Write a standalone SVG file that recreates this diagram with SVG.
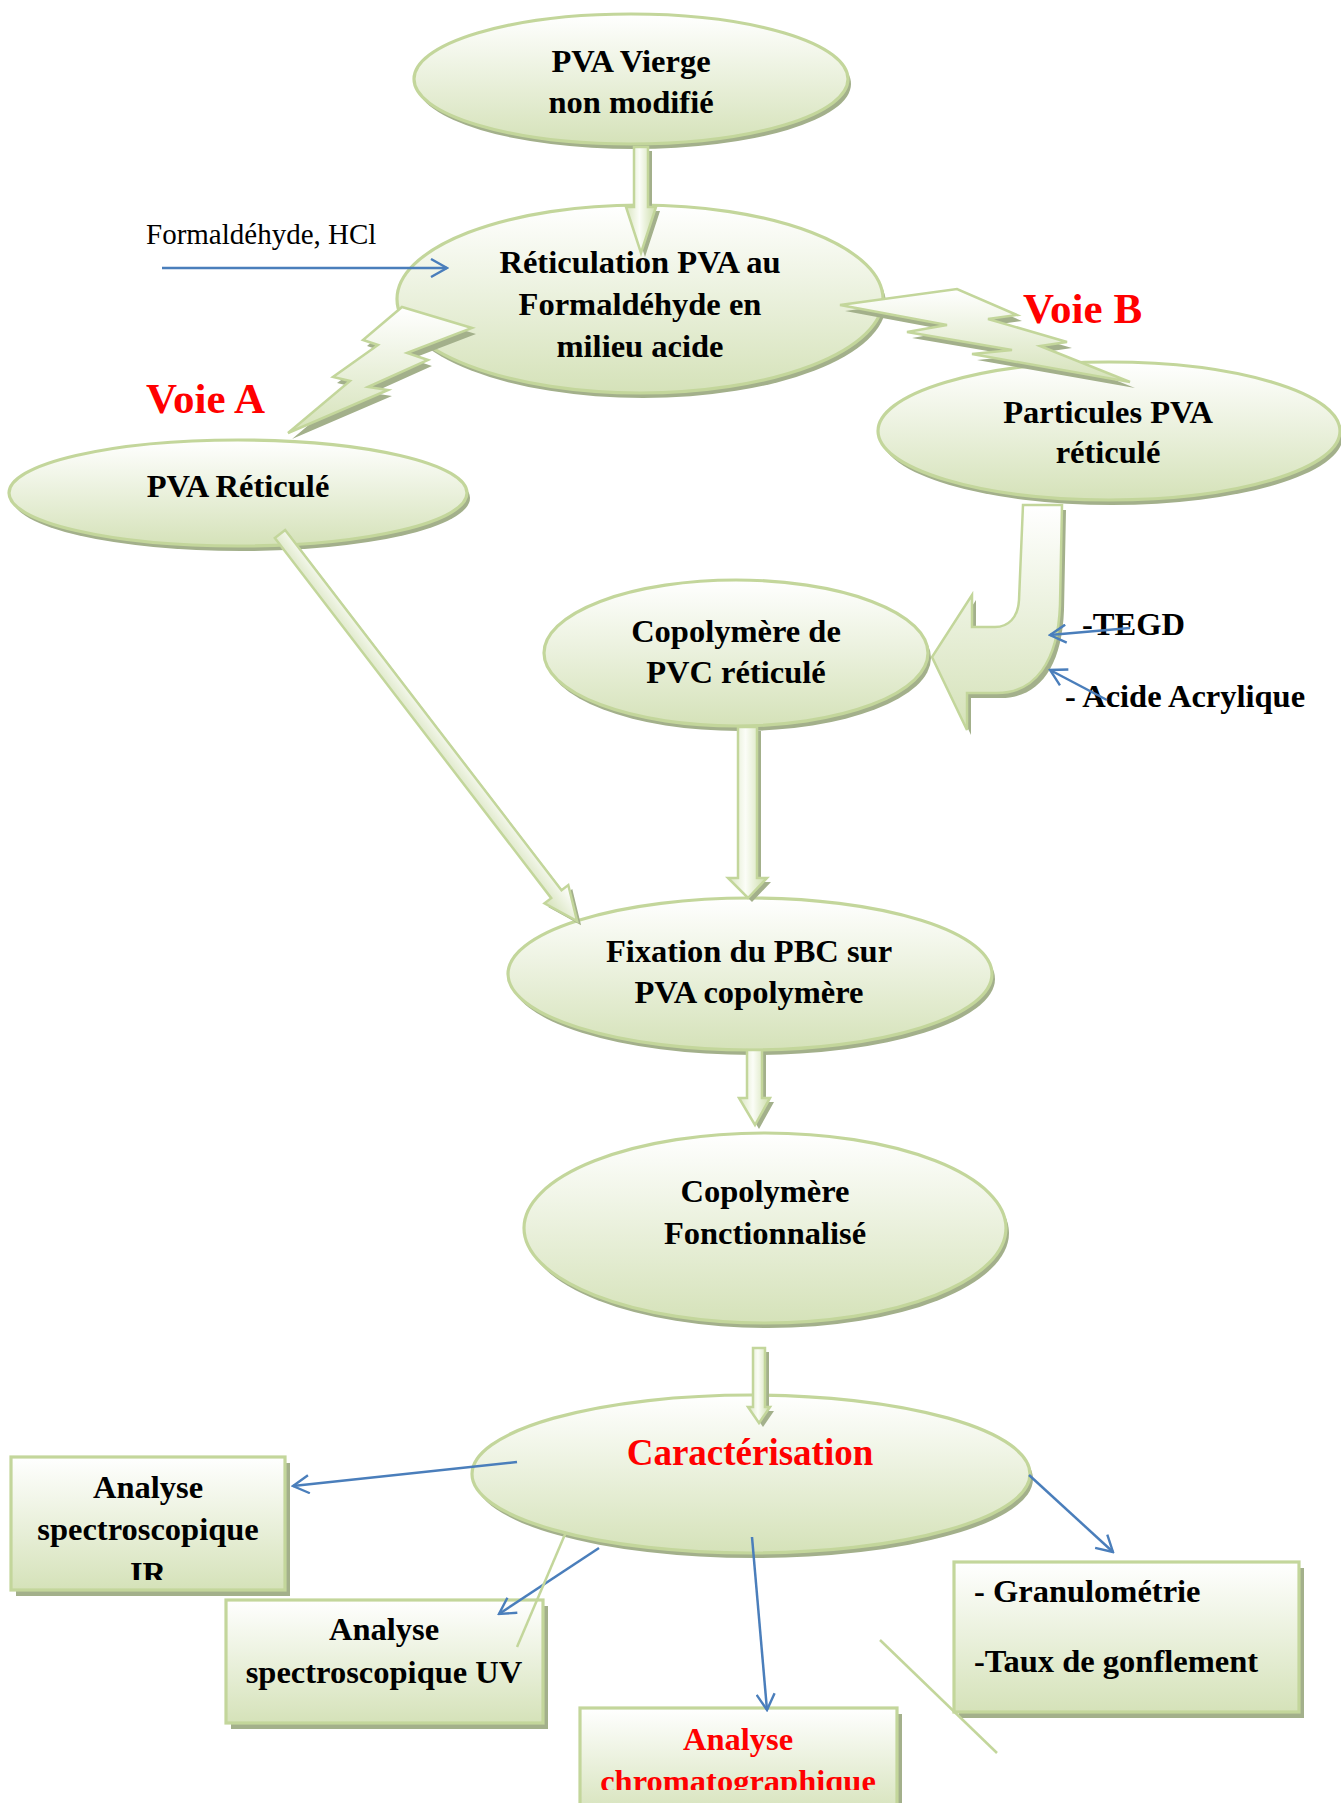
<svg xmlns="http://www.w3.org/2000/svg" width="1341" height="1803" viewBox="0 0 1341 1803">
<defs>
<linearGradient id="gn" x1="0" y1="0" x2="0" y2="1"><stop offset="0" stop-color="#ffffff"/><stop offset="1" stop-color="#d5e2b9"/></linearGradient>
<linearGradient id="gh" x1="0" y1="0" x2="1" y2="0"><stop offset="0" stop-color="#d9e5c0"/><stop offset="0.45" stop-color="#fbfdf7"/><stop offset="1" stop-color="#cbdca7"/></linearGradient>
<marker id="ah" viewBox="0 0 20 20" refX="18" refY="10" markerWidth="20" markerHeight="20" markerUnits="userSpaceOnUse" orient="auto"><path d="M2,1 L18,10 L2,19" fill="none" stroke="#4a7ebb" stroke-width="2.4"/></marker>
<clipPath id="cIR"><rect x="11" y="1457" width="274" height="123"/></clipPath>
<clipPath id="cCh"><rect x="580" y="1708" width="317" height="82"/></clipPath>
</defs>
<style>
.nd{fill:url(#gn);stroke:#c3d69b;stroke-width:3.2}
.sh{fill:#a3b08b}
.ar{fill:url(#gh);stroke:#c3d69b;stroke-width:2.5}
.ad{fill:url(#gn);stroke:#c3d69b;stroke-width:2.5}
.t{font-family:"Liberation Serif","Times New Roman",serif;font-weight:bold;font-size:32.5px;text-anchor:middle;fill:#000}
.l{text-anchor:start}
.red{fill:#ff0000}
.v{font-size:43px}
.bl{fill:none;stroke:#4a7ebb;stroke-width:2.5;marker-end:url(#ah)}
.gl{fill:none;stroke:#c3d69b;stroke-width:2.5}
</style>

<g id="n-vierge">
<ellipse class="sh" cx="634" cy="84" rx="217" ry="65"/>
<ellipse class="nd" cx="631" cy="79" rx="217" ry="65"/>
<text class="t" x="631" y="72">PVA Vierge</text>
<text class="t" x="631" y="113">non modifié</text>
</g>

<g id="n-reticulation">
<ellipse class="sh" cx="643" cy="304" rx="243" ry="94"/>
<ellipse class="nd" cx="640" cy="299" rx="243" ry="94"/>
<text class="t" x="640" y="273">Réticulation PVA au</text>
<text class="t" x="640" y="315">Formaldéhyde en</text>
<text class="t" x="640" y="357">milieu acide</text>
</g>

<g id="n-pva-reticule">
<ellipse class="sh" cx="241" cy="498" rx="229" ry="53"/>
<ellipse class="nd" cx="238" cy="493" rx="229" ry="53"/>
<text class="t" x="238" y="497">PVA Réticulé</text>
</g>

<g id="n-particules">
<ellipse class="sh" cx="1112" cy="436" rx="231" ry="69"/>
<ellipse class="nd" cx="1109" cy="431" rx="231" ry="69"/>
<text class="t" x="1108" y="423">Particules PVA</text>
<text class="t" x="1108" y="463">réticulé</text>
</g>

<g id="n-copolymere-pvc">
<ellipse class="sh" cx="739" cy="658" rx="192" ry="73"/>
<ellipse class="nd" cx="736" cy="653" rx="192" ry="73"/>
<text class="t" x="736" y="642">Copolymère de</text>
<text class="t" x="736" y="683">PVC réticulé</text>
</g>

<g id="n-fixation">
<ellipse class="sh" cx="753" cy="979" rx="242" ry="76"/>
<ellipse class="nd" cx="750" cy="974" rx="242" ry="76"/>
<text class="t" x="749" y="962">Fixation du PBC sur</text>
<text class="t" x="749" y="1003">PVA copolymère</text>
</g>

<g id="n-fonctionnalise">
<ellipse class="sh" cx="768" cy="1233" rx="241" ry="95"/>
<ellipse class="nd" cx="765" cy="1228" rx="241" ry="95"/>
<text class="t" x="765" y="1202">Copolymère</text>
<text class="t" x="765" y="1244">Fonctionnalisé</text>
</g>

<g id="n-caracterisation">
<ellipse class="sh" cx="754" cy="1479" rx="279" ry="79"/>
<ellipse class="nd" cx="751" cy="1474" rx="279" ry="79"/>
<text class="t red" x="750" y="1465" style="font-size:37px">Caractérisation</text>
</g>

<g id="n-ir">
<rect class="sh" x="16" y="1463" width="274" height="133"/>
<rect class="nd" x="11" y="1457" width="274" height="133"/>
<g clip-path="url(#cIR)">
<text class="t" x="148" y="1498">Analyse</text>
<text class="t" x="148" y="1540">spectroscopique</text>
<text class="t" x="148" y="1584">IR</text>
</g>
</g>

<g id="n-uv">
<rect class="sh" x="231" y="1606" width="317" height="123"/>
<rect class="nd" x="226" y="1600" width="317" height="123"/>
<text class="t" x="384" y="1640">Analyse</text>
<text class="t" x="384" y="1683">spectroscopique UV</text>
</g>

<g id="n-granulo">
<rect class="sh" x="959" y="1568" width="345" height="150"/>
<rect class="nd" x="954" y="1562" width="345" height="150"/>
<text class="t l" x="974" y="1602">- Granulométrie</text>
<text class="t l" x="974" y="1672">-Taux de gonflement</text>
</g>

<g id="n-chromato">
<rect class="sh" x="585" y="1714" width="317" height="110"/>
<rect class="nd" x="580" y="1708" width="317" height="110"/>
<g clip-path="url(#cCh)">
<text class="t red" x="738" y="1750">Analyse</text>
<text class="t red" x="738" y="1792">chromatographique</text>
</g>
</g>

<g id="labels">
<text x="146" y="244" style="font-family:'Liberation Serif','Times New Roman',serif;font-size:29px;fill:#000">Formaldéhyde, HCl</text>
<text class="t l red v" x="146" y="413">Voie A</text>
<text class="t l red v" x="1023" y="323">Voie B</text>
<text class="t l" x="1082" y="635">-TEGD</text>
<text class="t l" x="1065" y="707">- Acide Acrylique</text>
</g>

<g id="connectors">
<polygon class="sh" transform="translate(4,6)" points="402,307 472,328 407,353 428,360 368,387 388,390 288,433 350,381 333,377 378,345 363,340"/>
<polygon class="ad" points="402,307 472,328 407,353 428,360 368,387 388,390 288,433 350,381 333,377 378,345 363,340"/>
<polygon class="sh" transform="translate(5,6)" points="840,305 947,325 907,332 1012,350 972,354 1130,382 1040,346 1067,342 988,319 1017,315 957,289"/>
<polygon class="ad" points="840,305 947,325 907,332 1012,350 972,354 1130,382 1040,346 1067,342 988,319 1017,315 957,289"/>
<path class="sh" transform="translate(4,4)" d="M634,147 L648,147 L648,207 L656,207 L641,253 L626,207 L634,207 Z"/>
<path class="ar" d="M634,147 L648,147 L648,207 L656,207 L641,253 L626,207 L634,207 Z"/>
<path class="sh" transform="translate(4,5)" d="M1023,505 L1019,600 C1018,618 1008,627 995,627 L972,627 L972,595 L932,657 L967,730 L967,693 L997,693 C1035,693 1058,662 1060,605 L1062,505 Z"/>
<path class="ad" d="M1023,505 L1019,600 C1018,618 1008,627 995,627 L972,627 L972,595 L932,657 L967,730 L967,693 L997,693 C1035,693 1058,662 1060,605 L1062,505 Z"/>
<path class="sh" transform="translate(4,4)" d="M738,727 L757,727 L757,878 L767,878 L748,898 L728,878 L738,878 Z"/>
<path class="ar" d="M738,727 L757,727 L757,878 L767,878 L748,898 L728,878 L738,878 Z"/>
<g transform="translate(284,538) rotate(52.5)"><path class="sh" d="M0,-6.5 L454,-6.5 L454,-15 L488,0 L454,15 L454,6.5 L0,6.5 Z"/></g>
<g transform="translate(280,534) rotate(52.5)"><path class="ad" d="M0,-6.5 L454,-6.5 L454,-15 L488,0 L454,15 L454,6.5 L0,6.5 Z"/></g>
<path class="sh" transform="translate(4,4)" d="M747,1050 L762,1050 L762,1098 L770,1098 L755,1125 L739,1098 L747,1098 Z"/>
<path class="ar" d="M747,1050 L762,1050 L762,1098 L770,1098 L755,1125 L739,1098 L747,1098 Z"/>
<path class="sh" transform="translate(4,4)" d="M753,1348 L765,1348 L765,1407 L770,1407 L759,1423 L748,1407 L753,1407 Z"/>
<path class="ar" d="M753,1348 L765,1348 L765,1407 L770,1407 L759,1423 L748,1407 L753,1407 Z"/>
<line class="bl" x1="162" y1="268" x2="447" y2="268"/>
<line class="bl" x1="1130" y1="628" x2="1050" y2="635"/>
<line class="bl" x1="1107" y1="700" x2="1050" y2="670"/>
<line class="bl" x1="517" y1="1462" x2="293" y2="1486"/>
<line class="bl" x1="599" y1="1548" x2="499" y2="1614"/>
<line class="bl" x1="752" y1="1537" x2="767" y2="1710"/>
<line class="bl" x1="1029" y1="1475" x2="1113" y2="1552"/>
<line class="gl" x1="566" y1="1532" x2="517" y2="1647"/>
<line class="gl" x1="880" y1="1640" x2="997" y2="1753"/>
</g>
</svg>
